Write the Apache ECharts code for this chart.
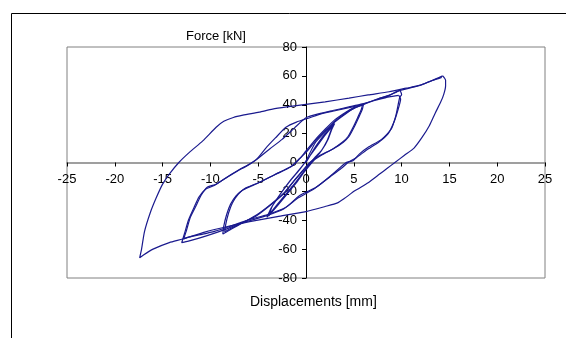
<!DOCTYPE html>
<html>
<head>
<meta charset="utf-8">
<script src="https://cdn.jsdelivr.net/npm/echarts@6/dist/echarts.min.js"></script>
<style>
  html, body { margin: 0; padding: 0; background: #fff; }
  #chart { width: 566px; height: 338px; }
</style>
</head>
<body>
<div id="chart"></div>
<script>
// tick labels
const xTicks = [-25, -20, -15, -10, -5, 0, 5, 10, 15, 20, 25];
const yTicks = [-80, -60, -40, -20, 0, 20, 40, 60, 80];

// [displacement mm, force kN], cycle by cycle
const smallLoops = [
  [0, 0], [1, 11], [2, 20], [2.9, 27], [2.6, 22], [2.2, 15], [1.6, 8], [1, 3], [0, -5],
  [-1, -14], [-2, -22], [-3, -30], [-3.9, -37], [-3.5, -30], [-2.6, -21], [-1.6, -12],
  [-0.7, -5], [0, 1], [1, 10], [2, 19], [3, 27], [2.7, 23], [2.3, 16], [1.7, 9], [1, 4],
  [0, -4], [-1, -13], [-2, -21], [-3, -29], [-4.1, -38], [-3.6, -31], [-2.7, -22],
  [-1.7, -13], [-0.8, -6], [0, 1]
];

const loop6a = [
  [0, 1], [1, 14], [2, 21], [3, 28], [4.2, 34], [5, 37.5], [5.9, 40], [5.8, 37], [5.4, 31],
  [4.9, 24], [4.4, 18], [3.8, 14], [2.8, 9.4], [1.4, 4.7], [0.4, 0], [-0.5, -7], [-1.4, -14],
  [-2.4, -22], [-3.8, -30], [-5.2, -37], [-6.3, -40.5], [-7.7, -45], [-8.5, -48], [-8.4, -43],
  [-8.1, -35], [-7.7, -28], [-7.1, -22], [-6.4, -18], [-4.9, -13.8], [-3.1, -8], [-1.4, -2.2],
  [-0.6, 3], [0, 8], [1, 16], [2, 23], [3, 29.5], [4.2, 35], [5, 38], [6, 40]
];

const loop6b = [
  [6, 40], [5.9, 37], [5.5, 31], [5, 24], [4.5, 18], [3.9, 14], [3, 10], [1.6, 5], [0.5, 0],
  [-0.4, -6], [-1.3, -13], [-2.3, -21], [-3.7, -29], [-5.1, -36], [-6.4, -41], [-7.8, -46],
  [-8.7, -49.5], [-8.6, -44], [-8.3, -36], [-7.9, -29], [-7.3, -23], [-6.6, -19], [-5.1, -14.5],
  [-3.3, -8.5], [-1.6, -3], [-0.8, 2], [0, 7], [1, 15], [2, 22], [3, 28.5], [4.2, 34.5],
  [5, 37.5], [5.8, 39.5]
];

const loop10a = [
  [5.8, 39.5], [7.5, 44], [8.7, 46.5], [9.8, 50], [10, 47], [9.8, 45], [9.4, 32.5], [8.9, 23],
  [7.9, 16], [6.5, 10.5], [5.6, 6], [4.9, 1.2], [4.2, 0], [2.8, -8], [1.1, -17], [-0.7, -23],
  [-2.1, -31], [-4, -36], [-5.9, -39.5], [-7, -42], [-8.3, -45], [-9.5, -47.5], [-10.8, -49.6],
  [-12.5, -52], [-12.8, -53], [-12.5, -47], [-12.1, -38], [-11.5, -30], [-11, -23], [-10.3, -17],
  [-9.4, -15], [-8, -9], [-7, -5], [-5.9, -1], [-5, 3], [-3.8, 9.4], [-2.5, 16], [-1.2, 24],
  [0, 31], [1.5, 34], [2.8, 36], [4.5, 38.5], [5.9, 40.6], [7.5, 43.5], [8.7, 45.5], [9.7, 46.5]
];

const loop10b = [
  [9.7, 46.5], [9.9, 44], [9.6, 36], [9.2, 28], [8.6, 20], [7.6, 14], [6.3, 8.5], [5.3, 3.5],
  [4.5, 0.5], [3.7, -4], [2.5, -10], [0.9, -18], [-0.8, -24.5], [-2.3, -32], [-4.2, -37],
  [-6, -40.5], [-7.2, -43], [-8.5, -46.5], [-10.5, -51], [-12.3, -54.5], [-13, -55.5],
  [-12.7, -49], [-12.3, -40], [-11.7, -31], [-11.2, -24], [-10.5, -18.5], [-9.6, -16],
  [-8.2, -10], [-7.2, -6], [-6.1, -2], [-5.2, 2], [-4.2, 10], [-3.2, 17], [-2.1, 24.4],
  [-1, 28], [0.4, 31], [1.5, 33.5], [2.8, 35.5], [4.5, 38], [5.9, 40.3], [7.5, 44], [8.7, 46.5],
  [9.8, 49.8], [11.9, 53.4], [13.2, 56.8], [14.3, 60]
];

const loop15 = [
  [14.3, 60], [14.6, 57], [14.6, 53], [14.4, 47], [14.1, 42], [13.5, 34], [12.9, 25.5],
  [12.1, 17], [11.3, 10], [10.3, 5], [9.3, 0], [8.5, -4], [7.7, -8], [6.5, -14], [5.1, -19.6],
  [4, -25], [3.3, -28], [2, -30.5], [0, -34], [-3, -37.5], [-5.9, -41], [-8, -44], [-10.5, -48],
  [-12.9, -53], [-14.3, -55.5], [-16, -60], [-17, -64], [-17.4, -66], [-17.2, -60],
  [-16.9, -48], [-16.3, -35], [-15.7, -25], [-15, -15], [-14.3, -8], [-13.3, 0], [-12.2, 7],
  [-10.8, 15], [-9.4, 24.4], [-8.6, 28.5], [-7.6, 31.2], [-6.6, 32.8], [-4.9, 34.9], [-3.5, 37], [-2, 38.5],
  [0.4, 40.6], [2, 42], [4.5, 44.6], [6.5, 46.8], [8.7, 49], [10.5, 51.5], [11.9, 53.4],
  [13.2, 56.8], [14.2, 59]
];

const loops = [smallLoops, loop6a, loop6b, loop10a, loop10b, loop15];

const font = "'Liberation Sans', Arial, sans-serif";
const gridW = 478, gridH = 231;
const chart = echarts.init(document.getElementById("chart"));

chart.setOption({
  animation: false,
  grid: {
    left: 67, top: 47, width: gridW, height: gridH,
    show: true, borderColor: "#808080", borderWidth: 1
  },
  xAxis: {
    type: "value", position: "bottom", offset: -gridH / 2,
    min: xTicks[0], max: xTicks[xTicks.length - 1], interval: 5,
    axisLine: {onZero: false, lineStyle: {color: "#808080", width: 1.5}},
    axisTick: {show: true, length: 4, lineStyle: {color: "#000"}},
    axisLabel: {fontSize: 13, color: "#000", fontFamily: font, margin: 10},
    splitLine: {show: false}
  },
  yAxis: {
    type: "value", position: "left", offset: -gridW / 2,
    min: yTicks[0], max: yTicks[yTicks.length - 1], interval: 20,
    axisLine: {onZero: false, lineStyle: {color: "#000", width: 1}},
    axisTick: {show: true, length: 4, lineStyle: {color: "#000"}},
    axisLabel: {fontSize: 13, color: "#000", fontFamily: font, margin: 9},
    splitLine: {show: false}
  },
  series: loops.map(d => ({
    type: "line",
    data: d,
    showSymbol: false,
    smooth: 0.2,
    lineStyle: {color: "#1a1a8e", width: 1.2},
    z: 3
  })),
  graphic: [
    {
      type: "rect",
      shape: {x: 11.5, y: 13.5, width: 700, height: 500},
      style: {fill: "none", stroke: "#000", lineWidth: 1},
      silent: true
    },
    {
      type: "text", left: 186, top: 30,
      style: {text: "Force [kN]", font: "13px " + font, fill: "#000"}
    },
    {
      type: "text", left: 250, top: 295,
      style: {text: "Displacements [mm]", font: "14px " + font, fill: "#000"}
    }
  ]
});
</script>
</body>
</html>
